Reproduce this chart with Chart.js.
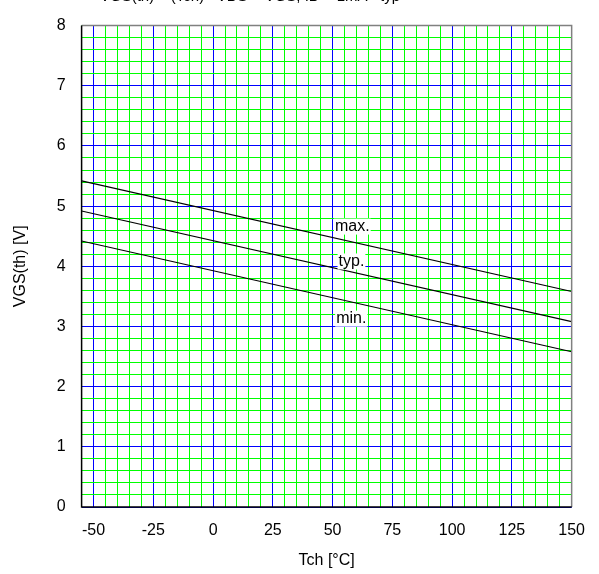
<!DOCTYPE html>
<html>
<head>
<meta charset="utf-8">
<script src="https://cdn.jsdelivr.net/npm/chart.js@4/dist/chart.umd.min.js"></script>
<style>
  html, body { margin: 0; background: #fff; }
  #wrap { width: 599px; height: 574px; }
</style>
</head>
<body>
<div id="wrap"><canvas id="chart" width="599" height="574"></canvas></div>
<script>
// Channel temperature endpoints and threshold voltage
const tchPoints = [-55, 150];
const vgsMax = [5.42, 3.58];
const vgsTyp = [4.92, 3.08];
const vgsMin = [4.42, 2.58];

// Curve labels and where they sit (data units)
const curveLabels = ['max.', 'typ.', 'min.'];
const labelTch = [51, 52.5, 51.5];
const labelVgs = [4.66, 4.08, 3.13];

const titleText = 'VGS(th) – (Tch)   VDS = VGS, ID = 1mA   typ';
const fontFamily = '"Liberation Sans", Arial, sans-serif';

function toPoints(values) {
    return tchPoints.map((t, i) => ({ x: t, y: values[i] }));
}

function isWhole(v, step) {
    const r = v / step;
    return Math.abs(r - Math.round(r)) < 1e-6;
}

// White page behind everything
const background = {
    id: 'background',
    beforeDraw(chart) {
        const c = chart.ctx;
        c.save();
        c.fillStyle = '#ffffff';
        c.fillRect(0, 0, chart.width, chart.height);
        c.restore();
    }
};

// Title clipped at the top edge, curve labels and the frame
const decorations = {
    id: 'decorations',
    afterDatasetsDraw(chart) {
        const { ctx, chartArea, scales } = chart;
        ctx.save();
        ctx.font = '16px ' + fontFamily;
        ctx.textBaseline = 'middle';
        ctx.textAlign = 'left';
        curveLabels.forEach((txt, i) => {
            const px = scales.x.getPixelForValue(labelTch[i]);
            const py = scales.y.getPixelForValue(labelVgs[i]);
            const w = ctx.measureText(txt).width;
            ctx.fillStyle = '#ffffff';
            ctx.fillRect(px - 1, py - 8, w + 2, 16);
            ctx.fillStyle = '#000000';
            ctx.fillText(txt, px, py);
        });

        // frame: grey top/right, black left/bottom
        ctx.lineWidth = 1.5;
        ctx.strokeStyle = '#808080';
        ctx.beginPath();
        ctx.moveTo(chartArea.left, chartArea.top);
        ctx.lineTo(chartArea.right, chartArea.top);
        ctx.lineTo(chartArea.right, chartArea.bottom);
        ctx.stroke();
        ctx.strokeStyle = '#000000';
        ctx.beginPath();
        ctx.moveTo(chartArea.left, chartArea.top);
        ctx.lineTo(chartArea.left, chartArea.bottom);
        ctx.lineTo(chartArea.right, chartArea.bottom);
        ctx.stroke();

        ctx.font = '15px ' + fontFamily;
        ctx.textBaseline = 'alphabetic';
        ctx.fillStyle = '#000000';
        ctx.fillText(titleText, 100, 1);
        ctx.restore();
    }
};

const canvas = document.getElementById('chart');
// software canvas, so the whole surface is rasterised the same way
const ctx = canvas.getContext('2d', { willReadFrequently: true });
const lineStyle = { borderColor: '#000000', borderWidth: 1.1, pointRadius: 0, fill: false, tension: 0 };

new Chart(ctx, {
    type: 'line',
    data: {
        datasets: [
            { label: 'max.', data: toPoints(vgsMax), ...lineStyle },
            { label: 'typ.', data: toPoints(vgsTyp), ...lineStyle },
            { label: 'min.', data: toPoints(vgsMin), ...lineStyle }
        ]
    },
    options: {
        responsive: false,
        animation: false,
        devicePixelRatio: 1,
        layout: { padding: { top: 15.7, right: 24, left: 0, bottom: 0 } },
        plugins: {
            legend: { display: false },
            tooltip: { enabled: false },
            title: { display: false }
        },
        scales: {
            x: {
                type: 'linear',
                min: -55,
                max: 150,
                afterFit: s => { s.height = 67; },
                ticks: {
                    stepSize: 5,
                    autoSkip: false,
                    maxRotation: 0,
                    padding: 14,
                    color: '#000000',
                    font: { family: fontFamily, size: 16 },
                    callback: v => isWhole(v, 25) ? v : ''
                },
                grid: {
                    drawTicks: false,
                    lineWidth: 1,
                    color: c => isWhole(c.tick.value, 25) ? '#0000ff' : '#00ff00'
                },
                border: { display: false },
                title: {
                    display: true,
                    text: 'Tch [°C]',
                    color: '#000000',
                    font: { family: fontFamily, size: 16 },
                    padding: { top: 0, bottom: 4 }
                }
            },
            y: {
                min: 0,
                max: 8,
                afterFit: s => { s.width = 81.6; },
                ticks: {
                    stepSize: 0.2,
                    autoSkip: false,
                    padding: 16,
                    color: '#000000',
                    font: { family: fontFamily, size: 16 },
                    callback: v => isWhole(v, 1) ? Math.round(v) : ''
                },
                grid: {
                    drawTicks: false,
                    lineWidth: 1,
                    color: c => isWhole(c.tick.value, 1) ? '#0000ff' : '#00ff00'
                },
                border: { display: false },
                title: {
                    display: true,
                    text: 'VGS(th) [V]',
                    color: '#000000',
                    font: { family: fontFamily, size: 16 },
                    padding: { top: 11, bottom: 0 }
                }
            }
        }
    },
    plugins: [background, decorations]
});
</script>
</body>
</html>
